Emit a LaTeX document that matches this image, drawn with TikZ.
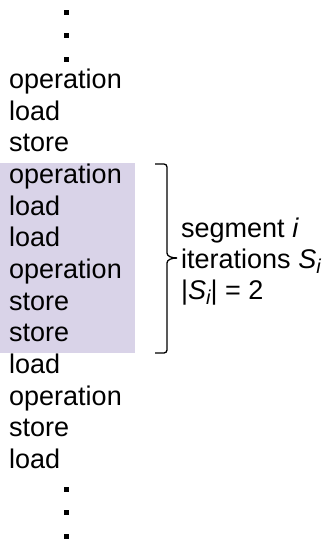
\documentclass[tikz,border=0pt]{standalone}
\usepackage{fontspec}
\setmainfont{Liberation Sans}
\usepackage{xcolor}
\usepackage{tikz}
\usetikzlibrary{calc, positioning}

\definecolor{seglilac}{RGB}{217,211,232}
\newcommand{\subi}{\raisebox{-5pt}{\fontsize{20}{20}\selectfont\itshape i}}

\begin{document}
\begin{tikzpicture}[x=1pt, y=-1pt,
    row/.style={anchor=base west, inner sep=0pt, font=\fontsize{27}{31}\selectfont},
    dotsq/.style={fill=black, inner sep=0pt, minimum size=5pt},
    bracket/.style={black, line width=1.3pt, rounded corners=3pt}]
    % 0. Khung hình
    \useasboundingbox (0,0) rectangle (333,541);

    % 1. Nền tô màu của đoạn i
    \fill[seglilac] (0,163) rectangle (135,353);

    % 2. Các dòng lệnh
    \foreach \w [count=\i] in {operation,load,store,operation,load,load,operation,store,store,load,operation,store,load}
        \node[row] (r\i) at (9, {88.5+(\i-1)*31.67}) {\w};

    % 3. Dấu chấm ở đầu và cuối
    \foreach \y [count=\i] in {12,35.5,59,489,512.5,536}
        \node[dotsq] (d\i) at (66,\y) {};

    % 4. Dấu ngoặc bên phải
    \coordinate (bt) at (155,164);
    \coordinate (bb) at (155,353);
    \coordinate (tip) at (177,258);
    \draw[bracket] (bt) -- (167,164) -- (167,250) .. controls (167,256) and (171,258) .. (tip);
    \draw[bracket] (tip) .. controls (171,258) and (167,260) .. (167,266) -- (167,353) -- (bb);

    % 5. Nhãn của đoạn
    \node[row] (seg) at (181,237) {segment \textit{i}};
    \node[row] (iter) at (181,268) {iterations \textit{S}\subi};
    \node[row] (card) at (181,299) {|\textit{S}\subi| = 2};

\end{tikzpicture}
\end{document}
